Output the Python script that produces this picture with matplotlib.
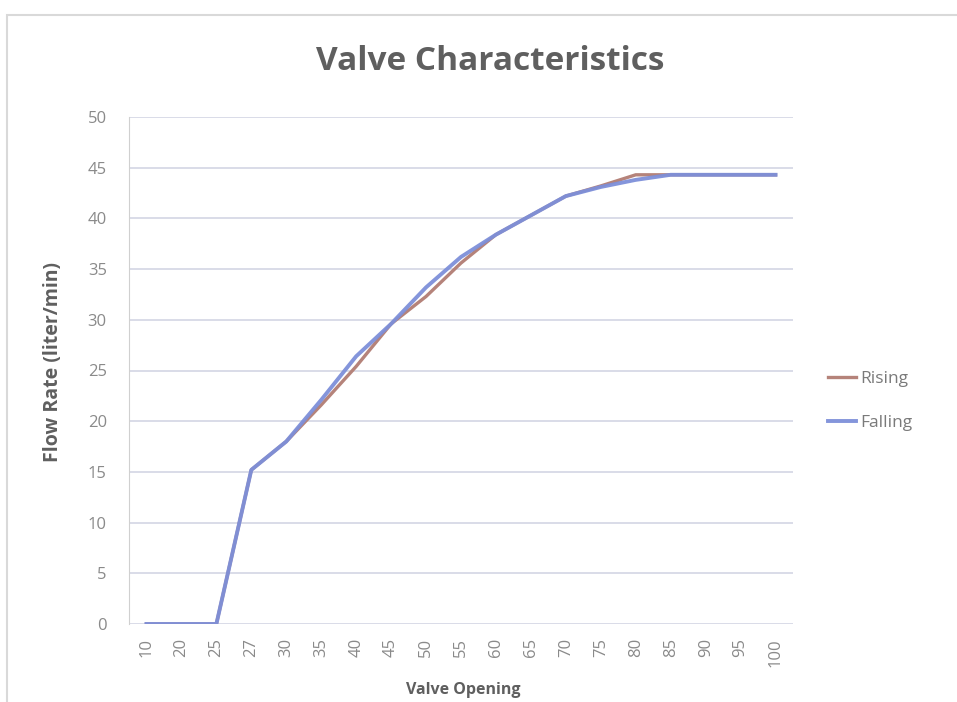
import matplotlib.pyplot as plt
from matplotlib.patches import Rectangle

# valve opening (%) - categorical axis
opening = ["10", "20", "25", "27", "30", "35", "40", "45", "50",
           "55", "60", "65", "70", "75", "80", "85", "90", "95", "100"]
rising = [0, 0, 0, 15.2, 18, 21.6, 25.4, 29.6, 32.3,
          35.6, 38.4, 40.3, 42.2, 43.2, 44.3, 44.3, 44.3, 44.3, 44.3]
falling = [0, 0, 0, 15.2, 18, 22.1, 26.4, 29.6, 33.2,
           36.2, 38.4, 40.3, 42.2, 43.1, 43.8, 44.3, 44.3, 44.3, 44.3]

plt.rcParams['font.family'] = ['Open Sans', 'DejaVu Sans']

fig = plt.figure(figsize=(9.57, 7.02), dpi=100)
ax = fig.add_axes([129 / 957, 1 - 624 / 702, 664 / 957, 507 / 702])

# chart area border
fig.patches.append(Rectangle((7 / 957, -0.01), 1.0, 1 - 15 / 702 + 0.01,
                             transform=fig.transFigure, fill=False,
                             edgecolor='#d9d9d9', linewidth=1.5))

x = list(range(len(opening)))
ax.plot(x, rising, color='#b5837a', linewidth=2.4, label='Rising')
ax.plot(x, falling, color='#7d8fd9', linewidth=2.8, label='Falling', alpha=0.95)

ax.set_xlim(-0.5, len(opening) - 0.5)
ax.set_ylim(0, 50)
ax.set_yticks(range(0, 51, 5))
ax.set_xticks(x)
ax.set_xticklabels(opening, rotation=90)
ax.tick_params(colors='#8a8a8a', labelsize=12, length=0)
ax.tick_params(axis='y', pad=16)
ax.tick_params(axis='x', pad=10)

ax.grid(axis='y', color='#d3d6e4', linewidth=1.2)
ax.set_axisbelow(True)
for s in ['top', 'right', 'bottom']:
    ax.spines[s].set_visible(False)
ax.spines['left'].set_color('#d0d0d0')

fig.text(490 / 957, 1 - 62 / 702, "Valve Characteristics",
         fontsize=24, fontweight='bold', color='#5f5f5f',
         ha='center', va='center')
fig.text(53 / 957, 1 - 362 / 702, "Flow Rate (liter/min)", fontsize=14,
         fontweight='bold', color='#5f5f5f', rotation=90,
         ha='center', va='center')
fig.text(463 / 957, 1 - 690 / 702, "Valve Opening", fontsize=11.5,
         fontweight='bold', color='#5f5f5f', ha='center', va='center')

ax.legend(loc='center left', bbox_to_anchor=(1.0, 0.44), frameon=False,
          fontsize=12.5, labelcolor='#7a7a7a', handlelength=1.6,
          handletextpad=0.25, labelspacing=1.6, borderaxespad=1.6)

fig.savefig("out.png", dpi=100)
